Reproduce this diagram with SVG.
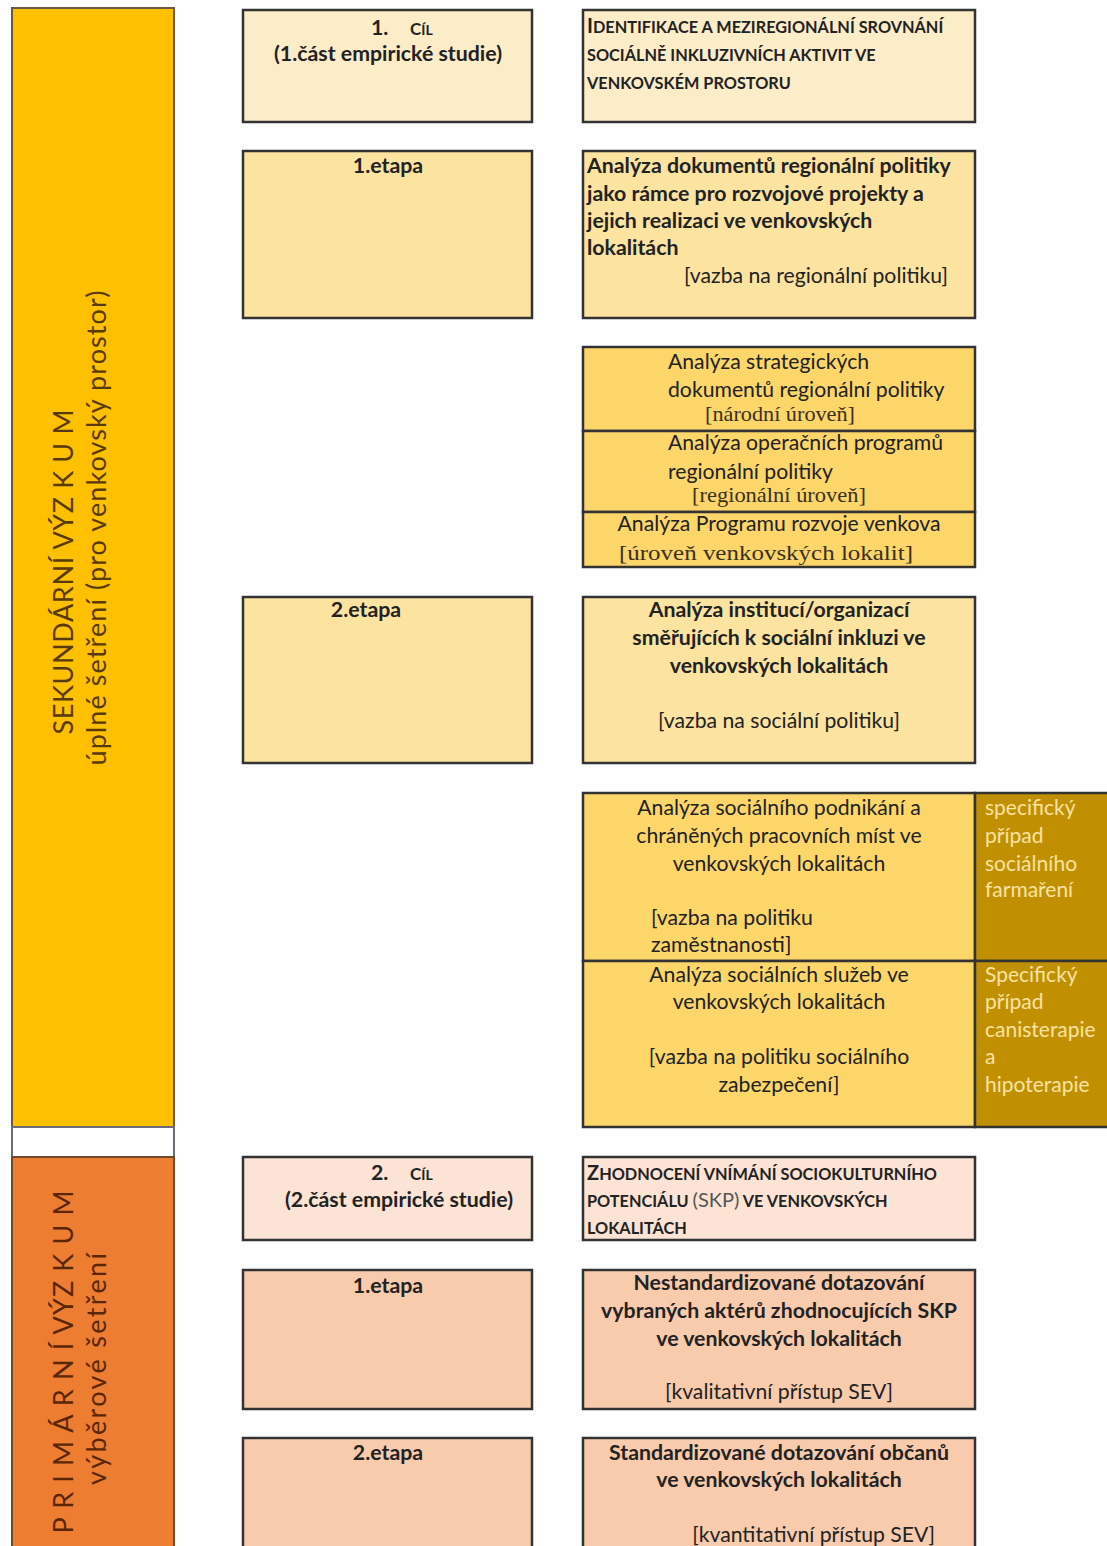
<svg xmlns="http://www.w3.org/2000/svg" width="1107" height="1546" viewBox="0 0 1107 1546">
<style>
text{font-family:Lato,"Open Sans","Liberation Sans",sans-serif;fill:#222;}
.b{font-weight:bold;font-size:21.3px;}
.n{font-size:21.2px;}
.sc{font-weight:bold;font-size:16.3px;}
.scb{font-size:20px;}
.cl{font-weight:bold;font-size:14px;}
.clb{font-size:17px;}
.sf{font-family:"Liberation Serif",serif;font-size:21px;fill:#3a3020;}
.c{text-anchor:middle;}
.e{text-anchor:end;}
.box{stroke:#333;stroke-width:2.5;}
.vt{font-size:27px;fill:#5a3a08;text-anchor:middle;}
.vo{font-size:27px;fill:#5a2608;text-anchor:middle;}
.lt{fill:#f8e2a4;font-size:21px;}
</style>
<rect width="1107" height="1546" fill="#fff"/>

<g id="bar-secondary">
<rect x="12" y="8" width="162" height="1119" fill="#ffc000" stroke="#6b5a40" stroke-width="2"/>
<text class="vt" transform="translate(73,572) rotate(-90)" textLength="325">SEKUNDÁRNÍ VÝZ K U M</text>
<text class="vt" transform="translate(106,528) rotate(-90)" textLength="475">úplné  šetření  (pro venkovský prostor)</text>
</g>
<g id="bar-gap"><rect x="12" y="1127" width="162" height="30" fill="#fff" stroke="#6b6b7a" stroke-width="2"/></g>
<g id="bar-primary">
<rect x="12" y="1157" width="162" height="400" fill="#ed7d31" stroke="#6b4a30" stroke-width="2"/>
<text class="vo" transform="translate(73,1362) rotate(-90)" textLength="343">P R I M Á R N Í  VÝZ K U M</text>
<text class="vo" transform="translate(106,1369) rotate(-90)" textLength="232">výběrové  šetření</text>
</g>

<g id="cil1-label">
<rect class="box" x="243" y="10" width="289" height="112" fill="#fdecc8"/>
<text class="b" x="371" y="35">1.</text>
<text class="cl" x="410" y="35"><tspan class="clb">C</tspan>ÍL</text>
<text class="b c" x="388" y="61">(1.část empirické studie)</text>
</g>
<g id="cil1-text">
<rect class="box" x="583" y="10" width="392" height="112" fill="#fdecc8"/>
<text class="sc" x="587" y="33"><tspan class="scb">I</tspan>DENTIFIKACE A MEZIREGIONÁLNÍ SROVNÁNÍ</text>
<text class="sc" x="587" y="61">SOCIÁLNĚ INKLUZIVNÍCH AKTIVIT VE</text>
<text class="sc" x="587" y="89">VENKOVSKÉM PROSTORU</text>
</g>

<g id="etapa1-label">
<rect class="box" x="243" y="151" width="289" height="167" fill="#fde3a0"/>
<text class="b c" x="388" y="173">1.etapa</text>
</g>
<g id="etapa1-text">
<rect class="box" x="583" y="151" width="392" height="167" fill="#fde3a0"/>
<text class="b" x="587" y="173">Analýza dokumentů regionální politiky</text>
<text class="b" x="587" y="201">jako rámce pro rozvojové projekty a</text>
<text class="b" x="587" y="228">jejich realizaci ve venkovských</text>
<text class="b" x="587" y="255">lokalitách</text>
<text class="n e" x="948" y="283">[vazba na regionální politiku]</text>
</g>

<g id="sub-narodni">
<rect class="box" x="583" y="347" width="392" height="84" fill="#fdd66a"/>
<text class="n" x="668" y="369">Analýza strategických</text>
<text class="n" x="668" y="397">dokumentů regionální politiky</text>
<text class="sf" x="705" y="421" textLength="150" lengthAdjust="spacingAndGlyphs">[národní úroveň]</text>
</g>
<g id="sub-regionalni">
<rect class="box" x="583" y="431" width="392" height="81" fill="#fdd66a"/>
<text class="n" x="668" y="450">Analýza operačních programů</text>
<text class="n" x="668" y="479">regionální politiky</text>
<text class="sf" x="692" y="502" textLength="174" lengthAdjust="spacingAndGlyphs">[regionální úroveň]</text>
</g>
<g id="sub-venkov">
<rect class="box" x="583" y="512" width="392" height="55" fill="#fdd66a"/>
<text class="n c" x="779" y="531">Analýza Programu rozvoje venkova</text>
<text class="sf" x="619" y="560" textLength="294" lengthAdjust="spacingAndGlyphs">[úroveň venkovských lokalit]</text>
</g>

<g id="etapa2-label">
<rect class="box" x="243" y="597" width="289" height="166" fill="#fde3a0"/>
<text class="b c" x="366" y="617">2.etapa</text>
</g>
<g id="etapa2-text">
<rect class="box" x="583" y="597" width="392" height="166" fill="#fde3a0"/>
<text class="b c" x="779" y="617">Analýza institucí/organizací</text>
<text class="b c" x="779" y="645">směřujících k sociální inkluzi ve</text>
<text class="b c" x="779" y="673">venkovských lokalitách</text>
<text class="n c" x="779" y="728">[vazba na sociální politiku]</text>
</g>

<g id="sub-podnikani">
<rect class="box" x="583" y="793" width="392" height="168" fill="#fdd66a"/>
<text class="n c" x="779" y="815">Analýza sociálního podnikání a</text>
<text class="n c" x="779" y="843">chráněných pracovních míst ve</text>
<text class="n c" x="779" y="871">venkovských lokalitách</text>
<text class="n" x="651" y="925">[vazba na politiku</text>
<text class="n" x="651" y="952">zaměstnanosti]</text>
</g>
<g id="case-farmareni">
<rect class="box" x="975" y="793" width="140" height="168" fill="#c09000"/>
<text class="lt" x="985" y="815">specifický</text>
<text class="lt" x="985" y="843">případ</text>
<text class="lt" x="985" y="871">sociálního</text>
<text class="lt" x="985" y="897">farmaření</text>
</g>
<g id="sub-sluzby">
<rect class="box" x="583" y="961" width="392" height="166" fill="#fdd66a"/>
<text class="n c" x="779" y="982">Analýza sociálních služeb ve</text>
<text class="n c" x="779" y="1009">venkovských lokalitách</text>
<text class="n c" x="779" y="1064">[vazba na politiku sociálního</text>
<text class="n c" x="779" y="1092">zabezpečení]</text>
</g>
<g id="case-terapie">
<rect class="box" x="975" y="961" width="140" height="166" fill="#c09000"/>
<text class="lt" x="985" y="982">Specifický</text>
<text class="lt" x="985" y="1009">případ</text>
<text class="lt" x="985" y="1037">canisterapie</text>
<text class="lt" x="985" y="1064">a</text>
<text class="lt" x="985" y="1092">hipoterapie</text>
</g>

<g id="cil2-label">
<rect class="box" x="243" y="1157" width="289" height="83" fill="#fce3d3"/>
<text class="b" x="371" y="1180">2.</text>
<text class="cl" x="410" y="1180"><tspan class="clb">C</tspan>ÍL</text>
<text class="b c" x="399" y="1207">(2.část empirické studie)</text>
</g>
<g id="cil2-text">
<rect class="box" x="583" y="1157" width="392" height="83" fill="#fce3d3"/>
<text class="sc" x="587" y="1180"><tspan class="scb">Z</tspan>HODNOCENÍ VNÍMÁNÍ SOCIOKULTURNÍHO</text>
<text class="sc" x="587" y="1207">POTENCIÁLU <tspan style="font-weight:normal;font-size:20px;fill:#555">(SKP)</tspan> VE VENKOVSKÝCH</text>
<text class="sc" x="587" y="1234">LOKALITÁCH</text>
</g>

<g id="p-etapa1-label">
<rect class="box" x="243" y="1270" width="289" height="139" fill="#f8cbad"/>
<text class="b c" x="388" y="1293">1.etapa</text>
</g>
<g id="p-etapa1-text">
<rect class="box" x="583" y="1270" width="392" height="139" fill="#f8cbad"/>
<text class="b c" x="779" y="1290">Nestandardizované dotazování</text>
<text class="b c" x="779" y="1318">vybraných aktérů zhodnocujících SKP</text>
<text class="b c" x="779" y="1346">ve venkovských lokalitách</text>
<text class="n c" x="779" y="1399">[kvalitativní přístup SEV]</text>
</g>

<g id="p-etapa2-label">
<rect class="box" x="243" y="1438" width="289" height="120" fill="#f8cbad"/>
<text class="b c" x="388" y="1460">2.etapa</text>
</g>
<g id="p-etapa2-text">
<rect class="box" x="583" y="1438" width="392" height="120" fill="#f8cbad"/>
<text class="b c" x="779" y="1460">Standardizované dotazování občanů</text>
<text class="b c" x="779" y="1487">ve venkovských lokalitách</text>
<text class="n e" x="935" y="1542">[kvantitativní přístup SEV]</text>
</g>

<g id="connectors"></g>
</svg>
